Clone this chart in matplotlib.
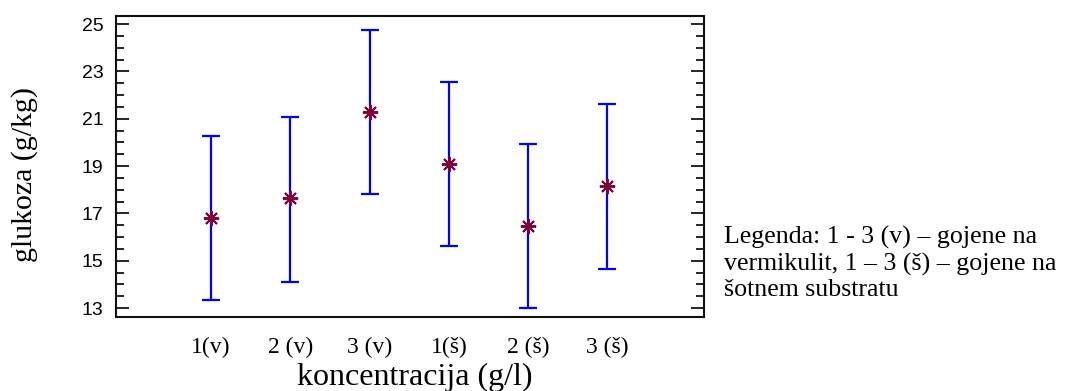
import matplotlib
matplotlib.use("Agg")
import matplotlib.pyplot as plt
from matplotlib.ticker import MultipleLocator

categories = ["1(v)", "2 (v)", "3 (v)", "1(š)", "2 (š)", "3 (š)"]
means = [16.79, 17.63, 21.27, 19.09, 16.47, 18.16]
lower = [13.33, 14.09, 17.82, 15.61, 12.99, 14.66]
upper = [20.25, 21.08, 24.75, 22.55, 19.92, 21.61]

legend_text = ("Legenda: 1 - 3 (v) – gojene na\n"
               "vermikulit, 1 – 3 (š) – gojene na\n"
               "šotnem substratu")

fig = plt.figure(figsize=(10.69, 3.91), dpi=100)
ax = fig.add_axes([116/1069, 1-317/391, (704-116)/1069, (317-16)/391])

x = list(range(1, len(categories)+1))
err_lo = [m - l for m, l in zip(means, lower)]
err_hi = [u - m for m, u in zip(means, upper)]
ax.errorbar(x, means, yerr=[err_lo, err_hi], fmt='none', ecolor='#0000ff',
            elinewidth=1.6, capsize=6.2, capthick=1.6, zorder=2)
ax.plot(x, means, linestyle='none', marker=(8, 2, 0), markersize=11,
        markeredgewidth=1.4, color='#80003a', zorder=3)

ax.set_xlim(-0.2, 7.22)
ax.set_ylim(12.62, 25.34)
ax.yaxis.set_major_locator(MultipleLocator(2))
ax.yaxis.set_minor_locator(MultipleLocator(0.5))
ax.set_yticks([13, 15, 17, 19, 21, 23, 25])
ax.set_xticks(x)
ax.set_xticklabels(categories, fontfamily='Liberation Serif', fontsize=17)
ax.tick_params(axis='x', length=0, pad=14)
ax.tick_params(axis='y', which='major', direction='in', length=9.5, width=1.2,
               left=True, right=True, labelsize=14, pad=9)
ax.tick_params(axis='y', which='minor', direction='in', length=5.5, width=1.2,
               left=True, right=True)
for lab in ax.get_yticklabels():
    lab.set_fontfamily('Liberation Sans')

for sp in ax.spines.values():
    sp.set_linewidth(1.5)
    sp.set_color('#111111')

fig.text(25/1069, 1-175/391, "glukoza (g/kg)", rotation=90, ha='center', va='center',
         fontfamily='Liberation Serif', fontsize=21.5)
fig.text(415/1069, 1-377/391, "koncentracija (g/l)", ha='center', va='center',
         fontfamily='Liberation Serif', fontsize=23)
fig.text(724/1069, 1-226/391, legend_text, ha='left', va='top',
         fontfamily='Liberation Serif', fontsize=18.6, linespacing=1.2)

fig.savefig("out.png", dpi=100)
